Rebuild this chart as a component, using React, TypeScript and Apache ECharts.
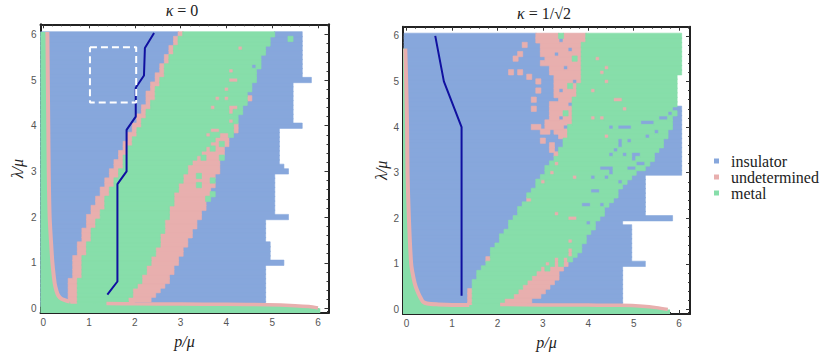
import React, { useEffect, useRef } from 'react';
import * as echarts from 'echarts';

const INS = '#87a7dc';
const UND = '#e8afae';
const MET = '#87deaa';
const FRAME = '#222222';
const LINE_BLUE = '#1010a0';

// grid rows (lambda/mu) of the phase-diagram cells
const rowLambda = [
  0.1, 0.2, 0.3, 0.4, 0.5, 0.6, 0.7, 0.8, 0.9, 1.0,
  1.1, 1.2, 1.3, 1.4, 1.5, 1.6, 1.7, 1.8, 1.9, 2.0,
  2.1, 2.2, 2.3, 2.4, 2.5, 2.6, 2.7, 2.8, 2.9, 3.0,
  3.1, 3.2, 3.3, 3.4, 3.5, 3.6, 3.7, 3.8, 3.9, 4.0,
  4.1, 4.2, 4.3, 4.4, 4.5, 4.6, 4.7, 4.8, 4.9, 5.0,
  5.1, 5.2, 5.3, 5.4, 5.5, 5.6, 5.7, 5.8, 5.9, 6.0,
];

// ---- kappa = 0 : first p/mu cell of each region, per row ----
const k0PinkAStart = [
  0.6, 0.6, 0.6, 0.6, 0.6, 0.6, 0.7, 0.7, 0.7, 0.7,
  0.7, 0.8, 0.8, 0.8, 0.9, 0.9, 0.9, 1.0, 1.0, 1.0,
  1.1, 1.1, 1.2, 1.2, 1.3, 1.3, 1.4, 1.4, 1.5, 1.5,
  1.6, 1.6, 1.7, 1.7, 1.8, 1.8, 1.9, 1.9, 2.0, 2.0,
  2.1, 2.1, 2.2, 2.2, 2.3, 2.3, 2.3, 2.4, 2.4, 2.5,
  2.5, 2.6, 2.6, 2.7, 2.7, 2.8, 2.8, 2.9, 2.9, 3.0,
];
const k0MetalStart = [
  0.8, 0.8, 0.8, 0.8, 0.8, 0.8, 0.9, 0.9, 0.9, 0.9,
  0.9, 1.0, 1.0, 1.0, 1.1, 1.1, 1.1, 1.2, 1.2, 1.3,
  1.3, 1.4, 1.4, 1.4, 1.5, 1.5, 1.6, 1.6, 1.7, 1.7,
  1.8, 1.8, 1.8, 1.9, 1.9, 2.0, 2.0, 2.1, 2.1, 2.2,
  2.2, 2.3, 2.3, 2.4, 2.4, 2.5, 2.5, 2.5, 2.6, 2.6,
  2.7, 2.7, 2.7, 2.8, 2.8, 2.9, 2.9, 3.0, 3.0, 3.1,
];
const k0PinkBStart = [
  1.9, 1.9, 2.0, 2.0, 2.1, 2.2, 2.2, 2.3, 2.3, 2.4,
  2.4, 2.5, 2.5, 2.6, 2.6, 2.6, 2.7, 2.7, 2.7, 2.8,
  2.8, 2.8, 2.9, 2.9, 2.9, 3.0, 3.0, 3.1, 3.1, 3.2,
  3.2, 3.3, 3.4, 3.5, 3.6, 3.7, 3.8, 4.2, 4.2, 4.3,
  4.3, 4.3, 4.4, 4.4, 4.5, 4.5, 4.5, 4.6, 4.6, 4.7,
  4.7, 4.7, 4.8, 4.8, 4.8, 4.9, 4.9, 5.0, 5.0, 5.1,
];
const k0InsBStart = [
  1.9, 2.4, 2.5, 2.6, 2.7, 2.8, 2.8, 2.9, 2.9, 3.0,
  3.0, 3.1, 3.1, 3.2, 3.2, 3.3, 3.3, 3.4, 3.4, 3.5,
  3.5, 3.6, 3.6, 3.6, 3.7, 3.7, 3.8, 3.8, 3.8, 3.9,
  3.9, 3.9, 4.0, 4.0, 4.0, 4.1, 4.1, 4.2, 4.2, 4.3,
  4.3, 4.3, 4.4, 4.4, 4.5, 4.5, 4.5, 4.6, 4.6, 4.7,
  4.7, 4.7, 4.8, 4.8, 4.8, 4.9, 4.9, 5.0, 5.0, 5.1,
];
const k0WhiteStart = [
  4.9, 4.9, 4.9, 4.9, 4.9, 4.9, 4.9, 4.9, 4.9, 5.3,
  5.0, 5.0, 5.0, 5.0, 4.9, 4.9, 4.9, 4.9, 4.9, 5.4,
  5.1, 5.1, 5.1, 5.1, 5.1, 5.1, 5.1, 5.1, 5.1, 5.4,
  5.3, 5.2, 5.2, 5.2, 5.2, 5.2, 5.2, 5.2, 5.2, 5.7,
  5.5, 5.5, 5.5, 5.5, 5.5, 5.5, 5.5, 5.5, 5.5, 5.9,
  5.7, 5.7, 5.7, 5.7, 5.7, 5.7, 5.7, 5.7, 5.7, 5.7,
];
const k0UndetSpecks = [
  [4.3, 5.7], [4.1, 5.2], [4.1, 5.0], [4.2, 5.0], [4.0, 4.8], [3.8, 4.6], [4.0, 4.6],
  [4.5, 4.6], [3.7, 4.4], [4.1, 4.4], [4.2, 4.4], [4.1, 4.3], [4.1, 4.1], [4.2, 4.0],
  [4.2, 3.9], [3.7, 3.9], [3.8, 3.9], [3.6, 3.8], [3.9, 3.8], [4.0, 3.8],
];
const k0MetalSpecks = [
  [5.4, 5.9], [3.4, 2.9], [3.4, 2.7], [3.7, 2.8], [3.6, 2.4], [3.7, 2.5],
  [3.5, 3.3], [3.9, 3.3], [3.7, 3.5], [3.9, 3.6],
];
const k0InsSpecks = [[4.6, 5.3]];

// thin boundary curves (pink) and the metal strip beneath them
const k0CurveP = [0.09, 0.10, 0.11, 0.12, 0.14, 0.18, 0.20, 0.25, 0.29, 0.33, 0.40, 0.50, 0.58];
const k0CurveL = [6.05, 5.0, 4.0, 3.0, 2.0, 1.3, 1.0, 0.55, 0.38, 0.28, 0.21, 0.17, 0.15];
const k0BottomP = [1.38, 2.0, 3.0, 4.0, 4.9, 5.5, 5.8, 6.0];
const k0BottomL = [0.11, 0.10, 0.095, 0.09, 0.08, 0.06, 0.04, 0.01];
// numerical path and highlighted window
const k0PathP = [2.42, 2.22, 2.2, 2.02, 2.02, 1.82, 1.82, 1.62, 1.62, 1.4];
const k0PathL = [6.03, 5.7, 5.1, 4.83, 4.2, 3.91, 3.0, 2.72, 0.59, 0.3];
const k0BoxP = [1.02, 2.03, 2.03, 1.02, 1.02];
const k0BoxL = [5.72, 5.72, 4.51, 4.51, 5.72];

// ---- kappa = 1/sqrt(2) ----
const k1PinkAStart = [
  1.4, 1.4, 1.4, 1.4, 1.5, 1.5, 1.6, 1.6, 1.7, 1.8,
  1.8, 1.9, 1.9, 2.0, 2.1, 2.1, 2.2, 2.3, 2.3, 2.4,
  2.5, 2.5, 2.6, 2.7, 2.7, 2.8, 2.9, 2.9, 3.0, 3.1,
  3.1, 3.2, 3.3, 3.4, 3.4, 3.5, 3.5, 3.4, 3.3, 3.1,
  3.1, 3.2, 3.2, 3.2, 3.2, 3.3, 3.3, 3.3, 3.3, 3.3,
  3.3, 3.2, 3.2, 3.1, 3.1, 3.0, 3.0, 3.0, 2.9, 2.9,
];
const k1MetalStart = [
  1.5, 1.5, 1.5, 1.5, 1.5, 1.5, 1.6, 1.6, 1.7, 1.8,
  1.8, 1.9, 1.9, 2.0, 2.1, 2.1, 2.2, 2.3, 2.3, 2.4,
  2.5, 2.5, 2.6, 2.7, 2.7, 2.8, 2.9, 2.9, 3.0, 3.1,
  3.1, 3.2, 3.3, 3.4, 3.4, 3.5, 3.5, 3.6, 3.6, 3.6,
  3.7, 3.7, 3.7, 3.7, 3.7, 3.7, 3.8, 3.8, 3.8, 3.9,
  3.9, 3.9, 3.9, 3.9, 3.9, 3.9, 3.9, 3.9, 4.0, 4.0,
];
const k1PinkBStart = [
  2.1, 2.2, 2.4, 2.5, 2.6, 2.7, 2.8, 2.9, 3.0, 3.1,
  3.3, 3.8, 3.9, 3.9, 4.0, 4.0, 4.1, 4.2, 4.2, 4.3,
  4.4, 4.4, 4.5, 4.6, 4.7, 4.7, 4.8, 4.9, 5.0, 5.1,
  5.3, 5.4, 5.5, 5.5, 5.6, 5.7, 5.7, 5.8, 5.8, 5.9,
  5.9, 5.9, 6.0, 6.0, 6.1, 6.1, 6.1, 6.1, 6.1, 6.1,
  6.1, 6.1, 6.1, 6.1, 6.1, 6.1, 6.1, 6.1, 6.1, 6.1,
];
const k1InsBStart = [
  2.5, 2.8, 3.0, 3.1, 3.2, 3.3, 3.4, 3.4, 3.5, 3.6,
  3.7, 3.8, 3.9, 3.9, 4.0, 4.0, 4.1, 4.2, 4.2, 4.3,
  4.4, 4.4, 4.5, 4.6, 4.7, 4.7, 4.8, 4.9, 5.0, 5.1,
  5.3, 5.4, 5.5, 5.5, 5.6, 5.7, 5.7, 5.8, 5.8, 5.9,
  5.9, 5.9, 6.0, 6.0, 6.1, 6.1, 6.1, 6.1, 6.1, 6.1,
  6.1, 6.1, 6.1, 6.1, 6.1, 6.1, 6.1, 6.1, 6.1, 6.1,
];
const k1WhiteStart = [
  4.8, 4.8, 4.8, 4.8, 4.8, 4.8, 4.8, 4.8, 4.8, 5.3,
  5.0, 5.0, 5.0, 5.0, 5.0, 5.0, 5.0, 5.0, 4.8, 5.9,
  5.3, 5.3, 5.3, 5.3, 5.3, 5.3, 5.3, 5.3, 5.3, 6.1,
  6.1, 6.1, 6.1, 6.1, 6.1, 6.1, 6.1, 6.1, 6.1, 6.1,
  6.1, 6.1, 6.1, 6.1, 6.0, 6.0, 6.0, 6.0, 6.0, 6.0,
  6.0, 6.1, 6.1, 6.1, 6.1, 6.1, 6.1, 6.1, 6.1, 6.1,
];
const k1UndetSpecks = [
  [2.6, 5.8], [2.5, 5.6], [2.4, 5.5], [2.3, 5.2], [2.5, 5.2], [2.7, 5.1], [3.0, 5.4],
  [2.9, 5.0], [2.9, 4.8], [2.8, 4.6], [2.8, 4.4], [2.8, 4.0], [2.9, 4.0], [3.0, 3.9],
  [3.1, 3.9], [3.0, 3.7], [3.2, 3.6], [3.2, 3.5], [3.3, 3.4], [3.3, 3.2], [3.2, 3.0],
  [3.0, 2.8], [2.7, 2.4], [1.8, 1.1], [3.3, 2.1], [3.6, 2.0], [3.7, 2.0], [3.6, 1.5],
  [3.6, 1.3], [3.7, 2.9], [3.6, 1.2], [4.4, 5.3], [4.3, 5.2], [4.4, 5.0], [4.1, 4.8],
  [4.6, 4.6], [4.7, 4.6], [4.8, 4.4], [4.1, 4.2], [4.3, 4.2], [4.4, 3.8], [4.2, 5.5],
];
const k1InsSpecks = [
  [3.4, 5.9], [3.3, 5.6], [3.6, 5.7], [3.5, 5.3], [3.7, 5.0], [3.4, 4.8], [3.6, 4.5],
  [3.4, 4.2], [3.5, 4.0], [3.3, 4.6], [4.0, 1.9], [3.9, 2.3], [4.0, 2.3], [4.3, 2.3],
  [4.1, 2.6], [4.2, 2.6], [4.1, 2.9], [4.4, 2.9], [4.5, 3.0], [4.3, 3.1], [4.4, 3.1],
  [4.5, 3.1], [4.7, 2.8], [4.9, 3.1], [5.0, 3.1], [5.1, 3.2], [5.2, 3.2], [5.0, 3.4],
  [5.1, 3.4], [4.5, 3.4], [4.6, 3.5], [4.7, 3.6], [4.8, 3.4], [4.7, 3.7], [4.9, 3.7],
  [5.3, 3.8], [4.5, 4.0], [4.7, 4.0], [4.8, 4.0], [4.9, 4.0], [5.2, 4.1], [5.3, 4.1],
  [5.4, 4.1], [5.6, 4.2], [5.7, 4.2], [5.8, 4.3], [5.9, 4.4], [5.5, 3.9], [5.0, 3.3],
];
const k1MetalSpecks = [
  [3.4, 6.0], [3.7, 5.5], [3.6, 4.9], [3.5, 4.3], [3.2, 1.0], [3.4, 1.0], [3.4, 1.1],
  [3.6, 1.1], [3.1, 0.9],
];
const k1CurveP = [-0.03, -0.01, 0.01, 0.02, 0.05, 0.10, 0.15, 0.20, 0.26, 0.31, 0.36, 0.45, 0.7, 1.0, 1.38];
const k1CurveL = [5.72, 5.0, 4.0, 3.0, 2.0, 1.0, 0.7, 0.5, 0.35, 0.25, 0.17, 0.13, 0.11, 0.1, 0.1];
const k1BottomP = [2.06, 3.0, 4.0, 4.7, 5.2, 5.5, 5.75];
const k1BottomL = [0.11, 0.10, 0.095, 0.09, 0.07, 0.04, 0.0];
const k1PathP = [0.63, 0.82, 1.21, 1.21];
const k1PathL = [6.0, 5.0, 4.0, 0.3];

const majorTicks = [0, 1, 2, 3, 4, 5, 6];
const minorTicks: number[] = [];
for (let k = 1; k <= 31; k++) if (k % 5 !== 0) minorTicks.push(k / 5);

function zip(a: number[], b: number[]) {
  return a.map((v, i) => [v, b[i]]);
}

function buildCells(
  pinkA: number[], metal: number[], pinkB: number[], insB: number[], white: number[],
  undet: number[][], met: number[][], ins: number[][],
) {
  const grid: number[][] = [];
  rowLambda.forEach((_, j) => {
    const ia = Math.round(pinkA[j] * 10), ib = Math.round(metal[j] * 10);
    const ic = Math.round(pinkB[j] * 10), id = Math.round(insB[j] * 10), iw = Math.round(white[j] * 10);
    const row: number[] = [];
    for (let i = 0; i <= 60; i++) {
      let c = 0;
      if (i < iw) c = i < ia ? 1 : i < ib ? 2 : i < ic ? 3 : i < id ? 2 : 1;
      row.push(c);
    }
    grid.push(row);
  });
  const put = (list: number[][], cls: number) =>
    list.forEach(([p, l]) => {
      const j = Math.round(l * 10) - 1, i = Math.round(p * 10);
      if (grid[j] && i >= 0 && i <= 60) grid[j][i] = cls;
    });
  put(ins, 1); put(undet, 2); put(met, 3);
  const out: Record<number, number[][]> = { 1: [], 2: [], 3: [] };
  grid.forEach((row, j) => {
    let s = 0;
    for (let i = 1; i <= 61; i++) {
      if (i === 61 || row[i] !== row[s]) {
        if (row[s]) out[row[s]].push([s / 10, (i - 1) / 10, rowLambda[j]]);
        s = i;
      }
    }
  });
  return out;
}

function cellSeries(name: string, color: string, data: number[][], ax: number) {
  return {
    type: 'custom', name, xAxisIndex: ax, yAxisIndex: ax, z: 2, silent: true,
    itemStyle: { color }, encode: { x: [0, 1], y: 2 }, data,
    renderItem: (_p: any, api: any) => {
      const a = api.coord([api.value(0) - 0.05, api.value(2) + 0.05]);
      const b = api.coord([api.value(1) + 0.05, api.value(2) - 0.05]);
      return {
        type: 'rect',
        shape: { x: a[0] - 0.3, y: a[1] - 0.4, width: b[0] - a[0] + 0.6, height: b[1] - a[1] + 0.8 },
        style: { fill: color, stroke: color, lineWidth: 0.6 },
      };
    },
  };
}

const labelStyle = { color: '#555', fontFamily: 'Liberation Sans', fontSize: 10 };
const nameStyle = { color: '#222', fontFamily: 'Liberation Serif', fontStyle: 'italic', fontSize: 16 };

function axesFor(dim: 'x' | 'y', grid: number, min: number, max: number, gap: number) {
  const base = { type: 'value', gridIndex: grid, min, max, splitLine: { show: false } };
  const pos = dim === 'x' ? ['bottom', 'top'] : ['left', 'right'];
  const line = { show: true, onZero: false, lineStyle: { color: FRAME, width: 2 } };
  const noLine = { show: false, onZero: false };
  const tick = (vals: number[], len: number) => ({
    show: true, inside: true, length: len, customValues: vals, lineStyle: { color: '#333', width: 1 },
  });
  return [
    {
      ...base, position: pos[0], axisLine: line, axisTick: tick(majorTicks, 4),
      axisLabel: { show: true, customValues: majorTicks, margin: 4, ...labelStyle },
      name: dim === 'x' ? 'p/μ' : 'λ/μ', nameLocation: 'middle', nameGap: gap,
      nameRotate: dim === 'x' ? 0 : 90, nameTextStyle: nameStyle,
    },
    { ...base, position: pos[0], axisLine: noLine, axisTick: tick(minorTicks, 2), axisLabel: { show: false } },
    { ...base, position: pos[1], axisLine: line, axisTick: tick(majorTicks, 4), axisLabel: { show: false } },
    { ...base, position: pos[1], axisLine: noLine, axisTick: tick(minorTicks, 2), axisLabel: { show: false } },
  ];
}

function panelSeries(
  ax: number, cells: Record<number, number[][]>, curveP: number[], curveL: number[],
  bottomP: number[], bottomL: number[], areaData: number[][], pathP: number[], pathL: number[],
) {
  const list: any[] = [
    cellSeries('insulator', INS, cells[1], ax),
    cellSeries('undetermined', UND, cells[2], ax),
    cellSeries('metal', MET, cells[3], ax),
    {
      type: 'line', xAxisIndex: ax, yAxisIndex: ax, z: 3, silent: true, symbol: 'none',
      data: areaData, smooth: 0.3, lineStyle: { width: 0, color: MET },
      areaStyle: { color: MET, opacity: 1, origin: 'start' },
    },
    {
      type: 'line', xAxisIndex: ax, yAxisIndex: ax, z: 4, silent: true, symbol: 'none',
      data: zip(curveP, curveL), smooth: 0.3, lineStyle: { width: 4, color: UND },
    },
    {
      type: 'line', xAxisIndex: ax, yAxisIndex: ax, z: 4, silent: true, symbol: 'none',
      data: zip(bottomP, bottomL), smooth: 0.3, lineStyle: { width: 3.5, color: UND },
    },
    {
      type: 'line', xAxisIndex: ax, yAxisIndex: ax, z: 5, silent: true, symbol: 'none',
      data: zip(pathP, pathL), lineStyle: { width: 2, color: LINE_BLUE },
    },
  ];
  return list;
}

export default function App() {
  const ref = useRef<HTMLDivElement>(null);
  useEffect(() => {
    if (!ref.current) return;
    const chart = echarts.init(ref.current, undefined, { renderer: 'svg' });

    const c0 = buildCells(k0PinkAStart, k0MetalStart, k0PinkBStart, k0InsBStart, k0WhiteStart,
      k0UndetSpecks, k0MetalSpecks, k0InsSpecks);
    const c1 = buildCells(k1PinkAStart, k1MetalStart, k1PinkBStart, k1InsBStart, k1WhiteStart,
      k1UndetSpecks, k1MetalSpecks, k1InsSpecks);

    const area0 = [[-0.06, 6.05], ...zip(k0CurveP, k0CurveL), [0.6, 0.1], ...zip(k0BottomP, k0BottomL), [6.05, 0.0]];
    const area1 = [[-0.08, 5.72], ...zip(k1CurveP, k1CurveL), [1.45, 0.1], ...zip(k1BottomP, k1BottomL), [5.8, 0.0]];

    const xAxis = [...axesFor('x', 0, -0.06, 6.23, 20), ...axesFor('x', 1, -0.08, 6.24, 20)];
    const yAxis = [...axesFor('y', 0, -0.1, 6.22, 15), ...axesFor('y', 1, -0.1, 6.2, 14)];

    const series = [
      ...panelSeries(0, c0, k0CurveP, k0CurveL, k0BottomP, k0BottomL, area0, k0PathP, k0PathL),
      {
        type: 'line', xAxisIndex: 0, yAxisIndex: 0, z: 6, silent: true, symbol: 'none',
        data: zip(k0BoxP, k0BoxL), lineStyle: { width: 2, color: '#ffffff', type: [7, 4] },
      },
      ...panelSeries(4, c1, k1CurveP, k1CurveL, k1BottomP, k1BottomL, area1, k1PathP, k1PathL),
    ];

    chart.setOption({
      animation: false,
      backgroundColor: '#ffffff',
      grid: [
        { left: 40.5, top: 24.3, width: 288, height: 288.7, containLabel: false, outerBoundsMode: 'none' },
        { left: 403, top: 26.7, width: 287, height: 287.3, containLabel: false, outerBoundsMode: 'none' },
      ],
      xAxis,
      yAxis,
      legend: {
        orient: 'vertical', left: 709, top: 148, icon: 'rect', itemWidth: 5, itemHeight: 5,
        itemGap: 0, selectedMode: false, data: ['insulator', 'undetermined', 'metal'],
        textStyle: { fontFamily: 'Liberation Serif', fontSize: 16, lineHeight: 15, color: '#222', padding: [0, 0, 0, 7] },
      },
      graphic: [
        {
          type: 'text', x: 182, y: 10, silent: true,
          style: {
            text: '{i|κ} = 0', align: 'center', verticalAlign: 'middle',
            font: '16px "Liberation Serif"', fill: '#222',
            rich: { i: { fontStyle: 'italic', fontFamily: 'Liberation Serif', fontSize: 16, fill: '#222' } },
          },
        },
        {
          type: 'text', x: 544, y: 13, silent: true,
          style: {
            text: '{i|κ} = 1/√2', align: 'center', verticalAlign: 'middle',
            font: '16px "Liberation Serif"', fill: '#222',
            rich: { i: { fontStyle: 'italic', fontFamily: 'Liberation Serif', fontSize: 16, fill: '#222' } },
          },
        },
      ],
      series,
    } as any);
    return () => chart.dispose();
  }, []);
  return (
    <div
      ref={ref}
      style={{ position: 'fixed', left: 0, top: 0, width: 831, height: 356, background: '#fff' }}
    />
  );
}
